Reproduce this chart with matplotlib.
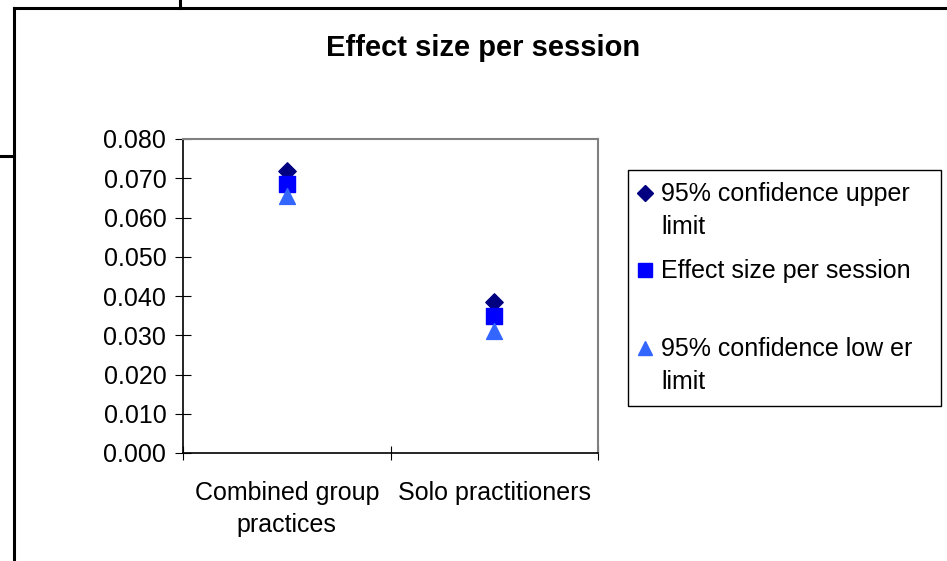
import matplotlib.pyplot as plt
from matplotlib.lines import Line2D
from matplotlib.patches import Rectangle

plt.rcParams['font.family'] = ['Liberation Sans', 'DejaVu Sans']

categories = ['Combined group\npractices', 'Solo practitioners']
upper = [0.0718, 0.0385]
effect = [0.0685, 0.0350]
lower = [0.0655, 0.0312]
series_labels = ['95% confidence upper\nlimit', 'Effect size per session', '95% confidence low er\nlimit']
series_colors = ['#000080', '#0000FF', '#3366FF']
series_markers = ['D', 's', '^']

W, H = 947, 561
fig = plt.figure(figsize=(W / 100, H / 100), dpi=100)


def fx(px):
    return px / W


def fy(py):
    return 1 - py / H


# outer frame pieces (chart pasted from a sheet)
frame = [([14, 14], [561, 8]), ([14, 947], [8, 8]), ([0, 14], [156, 156]), ([180, 180], [0, 8])]
for xs, ys in frame:
    fig.add_artist(Line2D([fx(v) for v in xs], [fy(v) for v in ys], color='black', lw=2.2,
                          transform=fig.transFigure))

ax = fig.add_axes([fx(183), fy(453), fx(598) - fx(183), fy(139) - fy(453)])
x = [0.5, 1.5]
ax.scatter(x, upper, marker='D', s=78, color=series_colors[0], zorder=3)
ax.scatter(x, effect, marker='s', s=130, color=series_colors[1], zorder=3)
ax.scatter(x, lower, marker='^', s=130, color=series_colors[2], zorder=3)

ax.set_xlim(0, 2)
ax.set_ylim(0, 0.08)
ax.set_yticks([i * 0.01 for i in range(9)])
ax.set_yticklabels([f'{i * 0.01:.3f}' for i in range(9)], fontsize=18)
ax.set_xticks([0, 1, 2])
ax.set_xticklabels([])
ax.set_xticks(x, minor=True)
ax.set_xticklabels(categories, minor=True, fontsize=18, linespacing=1.42)
ax.tick_params(axis='x', which='minor', length=0, pad=20)
ax.tick_params(axis='x', which='major', direction='inout', length=10)
ax.tick_params(axis='y', direction='inout', length=12, pad=6)

for s in ['top', 'right']:
    ax.spines[s].set_color('#808080')
    ax.spines[s].set_linewidth(1.5)
for s in ['left', 'bottom']:
    ax.spines[s].set_color('black')
    ax.spines[s].set_linewidth(1.2)

fig.text(fx(483), fy(48), 'Effect size per session', ha='center', va='center',
         fontsize=21, fontweight='bold')

# legend drawn by hand: equal-height entries, marker on first text line
fig.add_artist(Rectangle((fx(628), fy(406)), fx(941) - fx(628), fy(170) - fy(406),
                         fill=False, edgecolor='black', lw=1.0, transform=fig.transFigure))
entry_y = [193, 270, 348]
marker_sizes = [8.5, 10.5, 10.5]
for lab, col, mk, ey, ms in zip(series_labels, series_colors, series_markers, entry_y, marker_sizes):
    fig.add_artist(Line2D([fx(645)], [fy(ey)], marker=mk, color=col, markersize=ms, ls='none',
                          transform=fig.transFigure))
    fig.text(fx(661), fy(ey - 11), lab, ha='left', va='top', fontsize=18, linespacing=1.45)

fig.savefig('out.png', dpi=100)
